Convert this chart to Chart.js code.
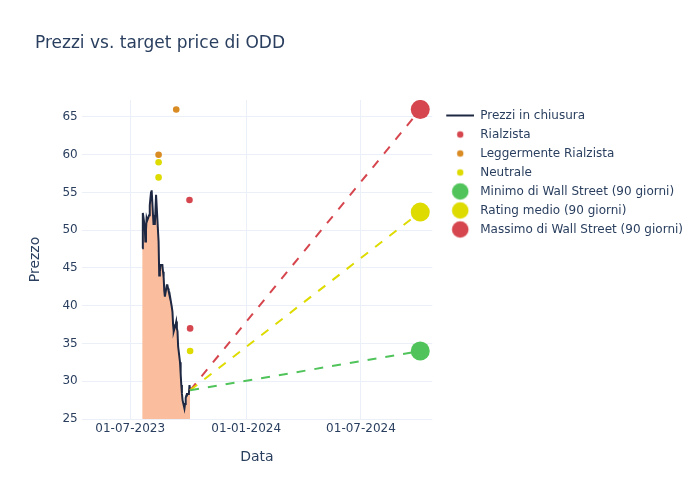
<!DOCTYPE html>
<html>
<head>
<meta charset="utf-8">
<script src="https://cdn.jsdelivr.net/npm/chart.js@4.4.0/dist/chart.umd.min.js"></script>
<style>
  html, body { margin: 0; padding: 0; background: #fff; }
</style>
</head>
<body>
<canvas id="chart" width="700" height="500"></canvas>
<script>
// closing prices
var priceDates = ['2023-07-20','2023-07-21','2023-07-24','2023-07-25','2023-07-26','2023-07-27','2023-07-28','2023-07-31',
  '2023-08-01','2023-08-02','2023-08-03','2023-08-04','2023-08-07','2023-08-08','2023-08-09','2023-08-10','2023-08-11',
  '2023-08-14','2023-08-15','2023-08-16','2023-08-17','2023-08-18','2023-08-21','2023-08-22','2023-08-23','2023-08-24',
  '2023-08-25','2023-08-28','2023-08-29','2023-08-30','2023-08-31','2023-09-01','2023-09-05','2023-09-06','2023-09-07',
  '2023-09-08','2023-09-11','2023-09-12','2023-09-13','2023-09-14','2023-09-15','2023-09-18','2023-09-19','2023-09-20',
  '2023-09-21','2023-09-22','2023-09-25','2023-09-26','2023-09-27','2023-09-28','2023-09-29','2023-10-02','2023-10-03',
  '2023-10-04'];
var priceValues = [47.6, 52.3, 50.5, 48.5, 50.0, 51.6, 51.3, 52.0, 53.3, 54.2, 55.0, 55.3, 50.7, 52.0, 50.7, 52.5, 54.7,
  50.0, 48.5, 44.0, 44.5, 45.4, 45.4, 44.5, 43.8, 42.0, 41.2, 42.7, 42.7, 42.3, 41.9, 41.8, 39.8, 39.2, 37.5,
  36.6, 37.5, 37.9, 37.0, 36.6, 34.6, 32.5, 31.0, 29.5, 28.4, 27.5, 26.4, 27.0, 27.8, 28.1, 28.3, 28.3, 29.5,
  28.8];

// analyst ratings
var bullishDates = ['2023-10-03', '2023-10-04'];
var bullishValues = [54, 37];
var slightlyBullishDates = ['2023-08-15', '2023-09-12'];
var slightlyBullishValues = [60, 66];
var neutralDates = ['2023-08-15', '2023-08-15', '2023-10-04'];
var neutralValues = [59, 57, 34];

// wall street targets (90 days)
var targetDate = '2024-10-03';
var targetLow = 34;
var targetMid = 52.4;
var targetHigh = 66;

// axes
var xTickDates = ['2023-07-01', '2024-01-01', '2024-07-01'];
var xRange = ['2023-04-15', '2024-10-22'];
var yTicks = [25, 30, 35, 40, 45, 50, 55, 60, 65];
var yRange = [25, 67.25];

var textColor = '#2a3f5f';
var gridColor = '#ebf0f8';
var fontFamily = 'DejaVu Sans';

function toMs(s) { return Date.parse(s + 'T00:00:00Z'); }
function pad(n) { return (n < 10 ? '0' : '') + n; }
function fmtDate(v) {
  var d = new Date(v);
  return pad(d.getUTCDate()) + '-' + pad(d.getUTCMonth() + 1) + '-' + d.getUTCFullYear();
}
function points(dates, values) {
  return dates.map(function(d, i) { return {x: toMs(d), y: values[i]}; });
}

// legend symbol images
function makeIcon(kind, color, r) {
  var c = document.createElement('canvas');
  c.width = 35; c.height = 20;
  var g = c.getContext('2d');
  if (kind === 'line') {
    g.strokeStyle = color; g.lineWidth = 2;
    g.beginPath(); g.moveTo(7, 10); g.lineTo(35, 10); g.stroke();
  } else {
    g.fillStyle = color;
    g.beginPath(); g.arc(21, 10, r, 0, Math.PI * 2); g.fill();
  }
  return c;
}

var lastDate = priceDates[priceDates.length - 1];
var lastPrice = priceValues[priceValues.length - 1];

function targetLine(label, value, color) {
  return {
    type: 'line',
    label: label,
    data: points([lastDate, targetDate], [lastPrice, value]),
    borderColor: color,
    borderWidth: 2,
    borderDash: [9, 9],
    pointRadius: [0, 9.5],
    pointBackgroundColor: color,
    pointBorderWidth: 0,
    fill: false,
    order: 0,
    legendIcon: makeIcon('dot', color, 8.3)
  };
}

function dots(label, dates, values, color) {
  return {
    type: 'scatter',
    label: label,
    data: points(dates, values),
    backgroundColor: color,
    borderWidth: 0,
    pointRadius: 3.3,
    order: 1,
    legendIcon: makeIcon('dot', color, 3.2)
  };
}

// nudge title and legend to where the reference has them
var nudge = {
  id: 'nudge',
  afterLayout: function(chart) {
    if (chart.titleBlock) chart.titleBlock.left += 15;
    if (chart.legend) chart.legend.top += 2.5;
  }
};

var ctx = document.getElementById('chart').getContext('2d');
var myChart = new Chart(ctx, {
  data: {
    datasets: [
      {
        type: 'line',
        label: 'Prezzi in chiusura',
        data: points(priceDates, priceValues),
        borderColor: '#1e2843',
        borderWidth: 2,
        backgroundColor: 'rgb(250,190,158)',
        fill: 'start',
        pointRadius: 0,
        tension: 0,
        order: 2,
        legendIcon: makeIcon('line', '#1e2843')
      },
      dots('Rialzista', bullishDates, bullishValues, '#d6464e'),
      dots('Leggermente Rialzista', slightlyBullishDates, slightlyBullishValues, '#d98b24'),
      dots('Neutrale', neutralDates, neutralValues, '#dedb00'),
      targetLine('Minimo di Wall Street (90 giorni)', targetLow, '#50c45a'),
      targetLine('Rating medio (90 giorni)', targetMid, '#dedb00'),
      targetLine('Massimo di Wall Street (90 giorni)', targetHigh, '#d6464e')
    ]
  },
  options: {
    responsive: false,
    animation: false,
    devicePixelRatio: 1,
    layout: { padding: { left: 20, right: 7, top: 0, bottom: 34.6 } },
    plugins: {
      title: {
        display: true,
        text: 'Prezzi vs. target price di ODD',
        align: 'start',
        color: textColor,
        font: { family: fontFamily, size: 17, weight: 'normal' },
        padding: { top: 33.3, bottom: 46.3 }
      },
      legend: {
        display: true,
        position: 'right',
        align: 'start',
        fullSize: false,
        maxWidth: 400,
        labels: {
          usePointStyle: true,
          pointStyleWidth: 35,
          padding: 7,
          color: textColor,
          font: { family: fontFamily, size: 12 },
          generateLabels: function(chart) {
            return chart.data.datasets.map(function(ds, i) {
              return {
                text: ds.label,
                pointStyle: ds.legendIcon,
                fontColor: textColor,
                fillStyle: 'transparent',
                strokeStyle: 'transparent',
                lineWidth: 0,
                hidden: false,
                datasetIndex: i
              };
            });
          }
        }
      },
      tooltip: { enabled: false }
    },
    scales: {
      x: {
        type: 'linear',
        min: toMs(xRange[0]),
        max: toMs(xRange[1]),
        afterBuildTicks: function(scale) {
          scale.ticks = xTickDates.map(function(d) { return {value: toMs(d)}; });
        },
        grid: { color: gridColor, drawTicks: false },
        border: { display: false },
        ticks: {
          color: textColor,
          font: { family: fontFamily, size: 12 },
          padding: 3,
          maxRotation: 0,
          callback: function(v) { return fmtDate(v); }
        },
        title: {
          display: true,
          text: 'Data',
          color: textColor,
          font: { family: fontFamily, size: 14 },
          padding: { top: 9.2, bottom: 0 }
        }
      },
      y: {
        type: 'linear',
        min: yRange[0],
        max: yRange[1],
        afterBuildTicks: function(scale) {
          scale.ticks = yTicks.map(function(v) { return {value: v}; });
        },
        grid: { color: gridColor, drawTicks: false },
        border: { display: false },
        ticks: {
          color: textColor,
          font: { family: fontFamily, size: 12 },
          padding: 4
        },
        title: {
          display: true,
          text: 'Prezzo',
          color: textColor,
          font: { family: fontFamily, size: 14 },
          padding: { top: 6.6, bottom: 15 }
        }
      }
    }
  },
  plugins: [nudge]
});
</script>
</body>
</html>
